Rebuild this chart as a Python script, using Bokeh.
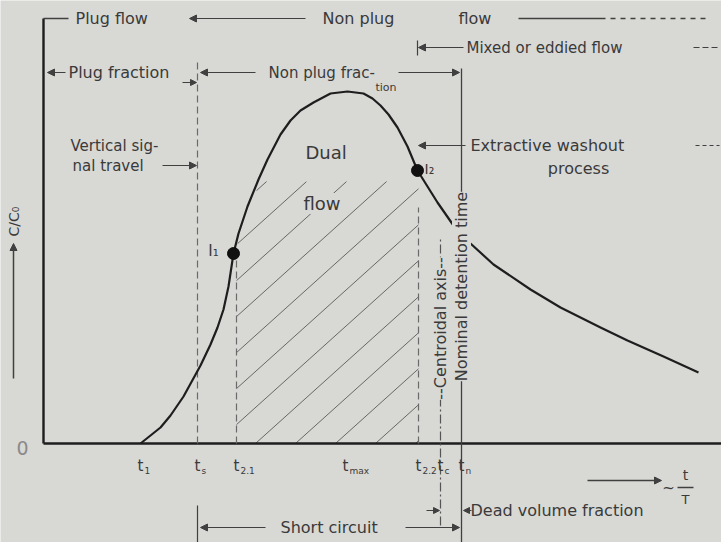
import numpy as np
from bokeh.plotting import figure
from bokeh.models import Range1d, Arrow, NormalHead, Label
from bokeh.core.properties import value
from bokeh.embed import file_html
from bokeh.resources import INLINE

# ---- data (t in plot units, C in plot units) ----
T_CURVE = [97, 117, 127, 140, 157, 167, 174, 180, 185, 190, 195, 204, 215, 224,
           237, 247, 257, 270, 287, 304, 320, 329, 337, 345, 354, 364, 374, 394, 410, 427,
           450, 487, 517, 557, 584, 620, 655]
C_CURVE = [0, 16, 28, 47, 78, 99, 116, 134, 157, 190, 210, 237, 264, 284,
           309, 323, 333, 341, 350, 352, 350, 345, 338, 329, 316, 297, 273, 241, 218, 200,
           179, 154, 136, 116, 103, 87, 71]
INFLECT_T = [190, 374]
INFLECT_C = [190, 273]
INFLECT_LABELS = ["I₁", "I₂"]
TICK_T = [97, 154, 193, 302, 375, 397, 418]
TICK_SUB = ["1", "s", "2.1", "max", "2.2", "c", "n"]
T_END = 678

BG = "#d8d8d5"
INK = "#1e1e1e"
INK2 = "#404040"
TXT = "#3a3a3a"
FONT = "DejaVu Sans"

p = figure(width=721, height=542, x_range=Range1d(-43, 678), y_range=Range1d(-99, 443),
           output_backend="svg", toolbar_location=None, x_axis_type=None, y_axis_type=None,
           min_border=0, background_fill_color=BG, border_fill_color=BG, outline_line_color=None)
p.grid.visible = False

t = np.array(T_CURVE, dtype=float)
c = np.array(C_CURVE, dtype=float)

# hatched "dual flow" region between t(2.1) and t(2.2), under the curve
xs_fine = np.linspace(TICK_T[2], TICK_T[4], 600)
top = np.minimum(np.interp(xs_fine, t, c) - 6, 262)
hx0, hy0, hx1, hy1 = [], [], [], []
slope, gap = 0.9, 40
for x0 in np.arange(212 - gap * 8, TICK_T[4], gap):
    yl = slope * (xs_fine - x0)
    inside = (yl >= 0) & (yl <= top)
    idx = np.where(inside)[0]
    if len(idx) < 2:
        continue
    brk = np.where(np.diff(idx) > 1)[0]
    end = idx[brk[0]] if len(brk) else idx[-1]
    a = idx[0]
    hx0.append(xs_fine[a]); hy0.append(yl[a])
    hx1.append(xs_fine[end]); hy1.append(yl[end])
p.segment(x0=hx0, y0=hy0, x1=hx1, y1=hy1, line_color="#5a5a5a", line_width=1.0, line_alpha=0.9)


def txt(x, y, s, size=15, angle=0, align="left", baseline="middle", color=TXT, bg=None):
    p.add_layout(Label(x=x, y=y, text=s, text_font=FONT, text_font_size=f"{size}px",
                       angle=angle, text_align=align, text_baseline=baseline, text_color=color,
                       background_fill_color=bg if bg else None,
                       background_fill_alpha=1.0 if bg else 0.0))


def arrow(x0, y0, x1, y1, size=7, width=1.2):
    p.add_layout(Arrow(end=NormalHead(size=size, fill_color=INK2, line_color=INK2),
                       x_start=x0, y_start=y0, x_end=x1, y_end=y1,
                       line_color=INK2, line_width=width))


# axes
p.segment(x0=[0, 0], y0=[0, 0], x1=[T_END, 0], y1=[0, 425], line_color=INK, line_width=2.4)
p.segment(x0=[0], y0=[425], x1=[25], y1=[425], line_color=INK2, line_width=1.3)

# vertical reference lines
p.segment(x0=[TICK_T[1], TICK_T[2], TICK_T[4]], y0=[0, 0, 0],
          x1=[TICK_T[1], TICK_T[2], TICK_T[4]], y1=[383, 183, 236],
          line_color="#6a6a6a", line_width=1.2, line_dash="7 4")
p.segment(x0=[TICK_T[5]], y0=[-82], x1=[TICK_T[5]], y1=[205],
          line_color="#555555", line_width=1.2, line_dash="9 3 2 3")
p.segment(x0=[TICK_T[6]], y0=[-99], x1=[TICK_T[6]], y1=[375],
          line_color=INK2, line_width=1.3)
p.segment(x0=[374, TICK_T[1]], y0=[388, -62], x1=[374, TICK_T[1]], y1=[403, -99],
          line_color=INK2, line_width=1.2)

# curve
p.line(t, c, line_color=INK, line_width=2.2, line_join="round")
p.scatter(INFLECT_T, INFLECT_C, size=12, color="#111111")

# ---- top annotations ----
txt(32, 425, "Plug flow", 16)
arrow(262, 425, 146, 425)
txt(279, 425, "Non plug", 16)
txt(415, 425, "flow", 16)
p.segment(x0=[475], y0=[425], x1=[562], y1=[425], line_color=INK2, line_width=1.3)
p.segment(x0=[567], y0=[425], x1=[662], y1=[425], line_color=INK2, line_width=1.3, line_dash="5 5")

arrow(420, 396, 375, 396)
txt(423, 396, "Mixed or eddied flow", 15)
p.segment(x0=[650], y0=[396], x1=[676], y1=[396], line_color=INK2, line_width=1.2, line_dash="6 3")

arrow(22, 371, 4, 371)
txt(25, 371, "Plug fraction", 16)
arrow(212, 371, 157, 371)
arrow(139, 361, 153, 361, size=6)
txt(225, 371, "Non plug frac-", 15)
txt(332, 356, "tion", 11)
arrow(355, 371, 416, 371)

txt(27, 298, "Vertical sig-", 15)
txt(29, 278, "nal travel", 15)
arrow(119, 278, 153, 278)

arrow(422, 298, 375, 298)
txt(427, 298, "Extractive washout", 16)
p.segment(x0=[652], y0=[298], x1=[676], y1=[298], line_color=INK2, line_width=1.2, line_dash="4 3")
txt(535, 275, "process", 16, align="center")

txt(262, 291, "Dual", 18, bg=BG)
txt(260, 240, "flow", 18, bg=BG)

txt(INFLECT_T[0] - 20, INFLECT_C[0] + 3, INFLECT_LABELS[0], 15, align="center")
txt(INFLECT_T[1] + 7, INFLECT_C[1] + 2, INFLECT_LABELS[1], 14, align="left")

txt(TICK_T[5], 115, "--Centroidal axis--", 16, angle=np.pi / 2, align="center", bg=BG)
txt(TICK_T[6], 157, "Nominal detention time", 16, angle=np.pi / 2, align="center", bg=BG)

# ---- axis labels ----
txt(-21, -4, "0", 19, align="center", color="#8a8a8a")
p.text(x=TICK_T, y=[-22] * len(TICK_T), text=["t"] * len(TICK_T), text_font=value(FONT),
       text_font_size="15px", text_align="center", text_baseline="middle", text_color=TXT)
p.text(x=[v + 4 for v in TICK_T], y=[-27] * len(TICK_T), text=TICK_SUB, text_font=value(FONT),
       text_font_size="9px", text_align="left", text_baseline="middle", text_color=TXT)

arrow(-30, 65, -30, 200, size=7, width=1.5)
txt(-30, 222, "C/C₀", 14, angle=np.pi / 2, align="center")

arrow(544, -37, 618, -37, size=7, width=1.5)
txt(625, -44, "~", 15, align="center")
txt(642, -31, "t", 14, align="center")
p.segment(x0=[634], y0=[-44], x1=[650], y1=[-44], line_color=INK2, line_width=1.5)
txt(642, -56, "T", 13, align="center")

# ---- bottom annotations ----
arrow(222, -84, 157, -84)
txt(237, -84, "Short circuit", 16)
arrow(362, -84, 416, -84)

arrow(383, -67, 396, -67, size=6)
arrow(428, -67, 420, -67, size=6)
txt(427, -67, "Dead volume fraction", 16)

open("out.html", "w").write(file_html(p, INLINE))
